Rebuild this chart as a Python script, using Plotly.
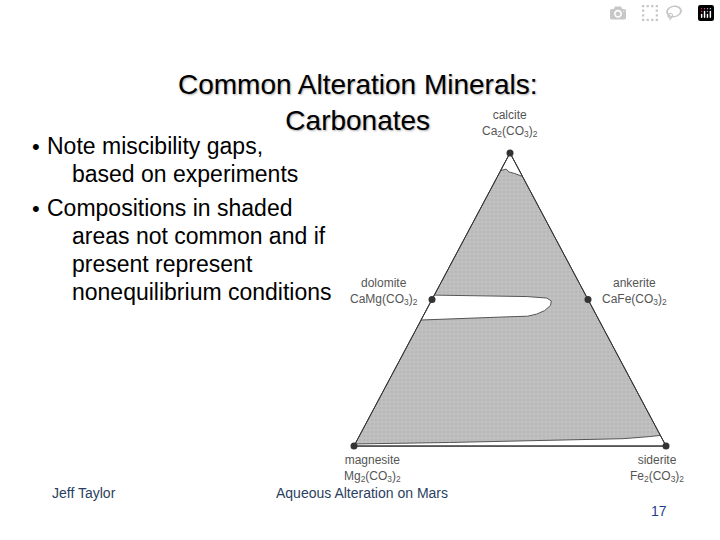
import plotly.graph_objects as go

# end members, as (Ca, Fe) fractions; Mg = 1 - Ca - Fe
minerals = ["calcite", "dolomite", "ankerite", "magnesite", "siderite"]
formulas = ["Ca<sub>2</sub>(CO<sub>3</sub>)<sub>2</sub>", "CaMg(CO<sub>3</sub>)<sub>2</sub>",
            "CaFe(CO<sub>3</sub>)<sub>2</sub>", "Mg<sub>2</sub>(CO<sub>3</sub>)<sub>2</sub>",
            "Fe<sub>2</sub>(CO<sub>3</sub>)<sub>2</sub>"]
min_ca = [1.0, 0.5, 0.5, 0.0, 0.0]
min_fe = [0.0, 0.0, 0.5, 0.0, 1.0]

# triangle outline
tri_ca = [1.0, 0.0, 0.0, 1.0]
tri_fe = [0.0, 0.0, 1.0, 0.0]

# miscibility gaps (unshaded areas)
top_ca = [1.0, 0.94, 0.945, 0.935, 0.93, 0.925, 0.92, 1.0]
top_fe = [0.0, 0.0, 0.015, 0.03, 0.05, 0.065, 0.08, 0.0]
mid_ca = [0.515, 0.513, 0.51, 0.505, 0.495, 0.48, 0.462, 0.45, 0.443, 0.44, 0.435, 0.43, 0.515]
mid_fe = [0.0, 0.15, 0.3, 0.365, 0.385, 0.39, 0.38, 0.36, 0.335, 0.25, 0.12, 0.0, 0.0]
bot_ca = [0.0, 0.007, 0.012, 0.018, 0.025, 0.032, 0.036, 0.0, 0.0]
bot_fe = [0.0, 0.0, 0.3, 0.6, 0.85, 0.93, 0.964, 1.0, 0.0]

bullets = ["•", "", "•", "", "", ""]
bullet_text = ["Note miscibility gaps,", "based on experiments", "Compositions in shaded",
               "areas not common and if", "present represent", "nonequilibrium conditions"]
bullet_indent = [45, 70, 45, 70, 70, 70]
bullet_y = [146, 174, 208, 236, 264, 292]


def to_xy(ca, fe):
    return [f + 0.5 * c for c, f in zip(ca, fe)], list(ca)


fig = go.Figure()
x, y = to_xy(tri_ca, tri_fe)
fig.add_trace(go.Scatter(x=x, y=y, fill="toself", fillcolor="#c4c4c4", mode="lines",
                         line=dict(color="#444", width=1),
                         fillpattern=dict(shape="+", fgcolor="#dcdcdc", bgcolor="#b8b8b8",
                                          size=4, solidity=0.3)))
for ca, fe in [(top_ca, top_fe), (mid_ca, mid_fe), (bot_ca, bot_fe)]:
    x, y = to_xy(ca, fe)
    fig.add_trace(go.Scatter(x=x, y=y, fill="toself", fillcolor="white", mode="lines",
                             line=dict(color="#555", width=1)))
x, y = to_xy(tri_ca, tri_fe)
fig.add_trace(go.Scatter(x=x, y=y, mode="lines", line=dict(color="#333", width=1)))
x, y = to_xy(min_ca, min_fe)
fig.add_trace(go.Scatter(x=x, y=y, mode="markers", marker=dict(color="#333", size=7)))

# label offsets in pixels (xshift, yshift, anchor)
offs = [(0, 30, "center"), (-12, 8, "right"), (12, 8, "left"), (-12, -22, "left"), (20, -22, "right")]
for i, name in enumerate(minerals):
    xs, ys, anc = offs[i]
    fig.add_annotation(x=x[i], y=y[i], text=name + "<br>" + formulas[i], showarrow=False,
                       xanchor=anc, yanchor="middle", xshift=xs, yshift=ys, align="center",
                       font=dict(family="Arial", size=12, color="#555"))

fig.add_annotation(x=357 / 720, y=1 - 67 / 540, xref="paper", yref="paper",
                   text="Common Alteration Minerals:<br>Carbonates", showarrow=False,
                   font=dict(family="Arial", size=28, color="black",
                             shadow="1px 1px 2px #aaa"), align="center")
for i, line in enumerate(bullet_text):
    if bullets[i]:
        fig.add_annotation(x=30 / 720, y=1 - bullet_y[i] / 540, xref="paper", yref="paper",
                           text=bullets[i], showarrow=False, xanchor="left", yanchor="middle",
                           font=dict(family="Arial", size=22, color="black"))
    fig.add_annotation(x=bullet_indent[i] / 720, y=1 - bullet_y[i] / 540, xref="paper",
                       yref="paper", text=line, showarrow=False, xanchor="left",
                       yanchor="middle", font=dict(family="Arial", size=23, color="black"))
fig.add_annotation(x=50 / 720, y=1 - 503 / 540, xref="paper", yref="paper", text="Jeff Taylor",
                   showarrow=False, xanchor="left", font=dict(family="Arial", size=14))
fig.add_annotation(x=362 / 720, y=1 - 503 / 540, xref="paper", yref="paper",
                   text="Aqueous Alteration on Mars", showarrow=False,
                   font=dict(family="Arial", size=14))
fig.add_annotation(x=669 / 720, y=1 - 521 / 540, xref="paper", yref="paper", text="17",
                   showarrow=False, font=dict(family="Arial", size=14, color="#1f3f8f"))

fig.update_layout(width=720, height=540, margin=dict(l=0, r=0, t=0, b=0),
                  plot_bgcolor="white", paper_bgcolor="white", showlegend=False,
                  xaxis=dict(range=[-354 / 312, 366 / 312], visible=False, fixedrange=True),
                  yaxis=dict(range=[-94 / 293, 446 / 293], visible=False, fixedrange=True))
fig.write_html("out.html", post_script="document.body.style.margin='0';")
